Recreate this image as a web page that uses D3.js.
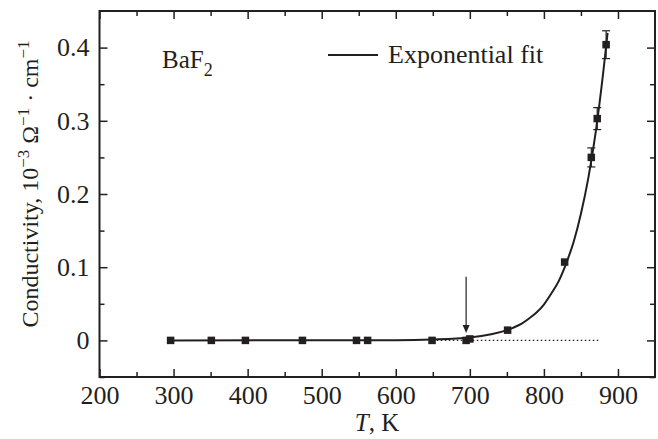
<!DOCTYPE html>
<html>
<head>
<meta charset="utf-8">
<script src="https://cdn.jsdelivr.net/npm/d3@7"></script>
<style>
  body { margin: 0; background: #fff; }
  text { font-family: "Liberation Serif", "Times New Roman", serif; fill: #231f20; }
</style>
</head>
<body>
<script>
// measured points (T in K, conductivity in 1e-3 Ohm^-1 cm^-1)
var temps = [296, 351, 397, 474, 547, 562, 649, 695, 700, 751, 828, 864, 872, 884];
var cond  = [0, 0, 0, 0, 0, 0, 0, 0, 0.002, 0.014, 0.107, 0.250, 0.303, 0.404];
var errs  = [0, 0, 0, 0, 0, 0, 0, 0, 0, 0, 0, 0.013, 0.015, 0.019];

// exponential fit curve
var fitT = [296, 600, 650, 700, 750, 760, 770, 780, 790, 800, 810, 820, 830, 840, 850, 860, 870, 880, 886];
var fitY = [0, 0.0003, 0.0012, 0.004, 0.014, 0.018, 0.023, 0.030, 0.038, 0.049, 0.064, 0.081, 0.105, 0.134, 0.173, 0.222, 0.285, 0.365, 0.42];

// dotted zero baseline and arrow marker
var baseT = [650, 874];
var arrowT = 695, arrowY = [0.087, 0.01];

var xMajor = [200, 300, 400, 500, 600, 700, 800, 900];
var xMinor = [250, 350, 450, 550, 650, 750, 850];
var yMajor = [0, 0.1, 0.2, 0.3, 0.4];
var yMinor = [-0.05, 0.05, 0.15, 0.25, 0.35];

var W = 658, H = 439;
var margin = {top: 11, right: 3, bottom: 62, left: 99.5},
    width = W - margin.left - margin.right,
    height = H - margin.top - margin.bottom;

var ink = "#231f20";

var x = d3.scaleLinear().domain([200, 950]).range([0, width]);
var y = d3.scaleLinear().domain([-0.05, 0.45]).range([height, 0]);

var svg = d3.select("body").append("svg")
    .attr("width", W)
    .attr("height", H)
  .append("g")
    .attr("transform", "translate(" + margin.left + "," + margin.top + ")");

function styleAxis(g) {
  g.select(".domain").remove();
  g.selectAll("line").attr("stroke", ink).attr("stroke-width", 1.5);
  g.selectAll("text").style("font-size", "26px").attr("fill", ink);
}

// bottom axis
svg.append("g")
    .attr("transform", "translate(0," + height + ")")
    .call(d3.axisBottom(x).tickValues(xMajor).tickSize(-8).tickPadding(9).tickFormat(d3.format("d")))
    .call(styleAxis);
svg.append("g")
    .attr("transform", "translate(0," + height + ")")
    .call(d3.axisBottom(x).tickValues(xMinor).tickSize(-5).tickFormat(""))
    .call(styleAxis);
// top axis
svg.append("g")
    .call(d3.axisTop(x).tickValues(xMajor).tickSize(-8).tickFormat(""))
    .call(styleAxis);
svg.append("g")
    .call(d3.axisTop(x).tickValues(xMinor).tickSize(-5).tickFormat(""))
    .call(styleAxis);
// left axis
svg.append("g")
    .call(d3.axisLeft(y).tickValues(yMajor).tickSize(-8).tickPadding(10)
      .tickFormat(function(d) { return d === 0 ? "0" : d3.format(".1f")(d); }))
    .call(styleAxis);
svg.append("g")
    .call(d3.axisLeft(y).tickValues(yMinor).tickSize(-5).tickFormat(""))
    .call(styleAxis);
// right axis
svg.append("g")
    .attr("transform", "translate(" + width + ",0)")
    .call(d3.axisRight(y).tickValues(yMajor).tickSize(-8).tickFormat(""))
    .call(styleAxis);
svg.append("g")
    .attr("transform", "translate(" + width + ",0)")
    .call(d3.axisRight(y).tickValues(yMinor).tickSize(-5).tickFormat(""))
    .call(styleAxis);

// frame
svg.append("rect")
    .attr("width", width)
    .attr("height", height)
    .attr("fill", "none")
    .attr("stroke", ink)
    .attr("stroke-width", 2);

// dotted baseline
svg.append("line")
    .attr("x1", x(baseT[0])).attr("x2", x(baseT[1]))
    .attr("y1", y(0)).attr("y2", y(0))
    .attr("stroke", ink)
    .attr("stroke-width", 1.2)
    .attr("stroke-dasharray", "1.5,2.5");

// fit curve
var fit = fitT.map(function(t, i) { return [t, fitY[i]]; });
svg.append("path")
    .datum(fit)
    .attr("fill", "none")
    .attr("stroke", ink)
    .attr("stroke-width", 2)
    .attr("d", d3.line()
      .x(function(d) { return x(d[0]); })
      .y(function(d) { return y(d[1]); })
      .curve(d3.curveMonotoneX));

// error bars
var pts = temps.map(function(t, i) { return {t: t, c: cond[i], e: errs[i]}; });
var eb = svg.selectAll(".err")
    .data(pts.filter(function(d) { return d.e > 0; }))
  .enter().append("g")
    .attr("class", "err")
    .attr("stroke", ink)
    .attr("stroke-width", 1.2);
eb.append("line")
    .attr("x1", function(d) { return x(d.t); })
    .attr("x2", function(d) { return x(d.t); })
    .attr("y1", function(d) { return y(d.c - d.e); })
    .attr("y2", function(d) { return y(d.c + d.e); });
eb.append("line")
    .attr("x1", function(d) { return x(d.t) - 4; })
    .attr("x2", function(d) { return x(d.t) + 4; })
    .attr("y1", function(d) { return y(d.c + d.e); })
    .attr("y2", function(d) { return y(d.c + d.e); });
eb.append("line")
    .attr("x1", function(d) { return x(d.t) - 4; })
    .attr("x2", function(d) { return x(d.t) + 4; })
    .attr("y1", function(d) { return y(d.c - d.e); })
    .attr("y2", function(d) { return y(d.c - d.e); });

// points
var s = 7.5;
svg.selectAll(".dot")
    .data(pts)
  .enter().append("rect")
    .attr("class", "dot")
    .attr("x", function(d) { return x(d.t) - s / 2; })
    .attr("y", function(d) { return y(d.c) - s / 2; })
    .attr("width", s)
    .attr("height", s)
    .attr("fill", ink);

// arrow
svg.append("line")
    .attr("x1", x(arrowT)).attr("x2", x(arrowT))
    .attr("y1", y(arrowY[0])).attr("y2", y(arrowY[1]) - 6)
    .attr("stroke", ink)
    .attr("stroke-width", 1.2);
svg.append("path")
    .attr("d", "M" + (x(arrowT) - 3.5) + "," + (y(arrowY[1]) - 8) +
               "L" + (x(arrowT) + 3.5) + "," + (y(arrowY[1]) - 8) +
               "L" + x(arrowT) + "," + y(arrowY[1]) + "Z")
    .attr("fill", ink);

// legend
svg.append("line")
    .attr("x1", 328 - margin.left).attr("x2", 378 - margin.left)
    .attr("y1", 55 - margin.top).attr("y2", 55 - margin.top)
    .attr("stroke", ink)
    .attr("stroke-width", 2);
svg.append("text")
    .attr("x", 388 - margin.left)
    .attr("y", 63 - margin.top)
    .style("font-size", "26px")
    .text("Exponential fit");

// BaF2 label
var baf = svg.append("text")
    .attr("x", 162 - margin.left)
    .attr("y", 68 - margin.top)
    .style("font-size", "25px");
baf.append("tspan").text("BaF");
baf.append("tspan").attr("dy", 8).style("font-size", "18px").text("2");

// axis titles
var xt = svg.append("text")
    .attr("x", 377 - margin.left)
    .attr("y", 431 - margin.top)
    .attr("text-anchor", "middle")
    .style("font-size", "25px");
xt.append("tspan").style("font-style", "italic").text("T");
xt.append("tspan").text(", K");

var yt = svg.append("text")
    .attr("transform", "translate(" + (38 - margin.left) + "," + (184 - margin.top) + ") rotate(-90)")
    .attr("text-anchor", "middle")
    .style("font-size", "24px");
yt.append("tspan").text("Conductivity, 10");
yt.append("tspan").attr("dy", -9).style("font-size", "17px").text("\u22123");
yt.append("tspan").attr("dy", 9).text(" \u03A9");
yt.append("tspan").attr("dy", -9).style("font-size", "17px").text("\u22121");
yt.append("tspan").attr("dy", 9).text(" \u00B7 cm");
yt.append("tspan").attr("dy", -9).style("font-size", "17px").text("\u22121");
</script>
</body>
</html>
